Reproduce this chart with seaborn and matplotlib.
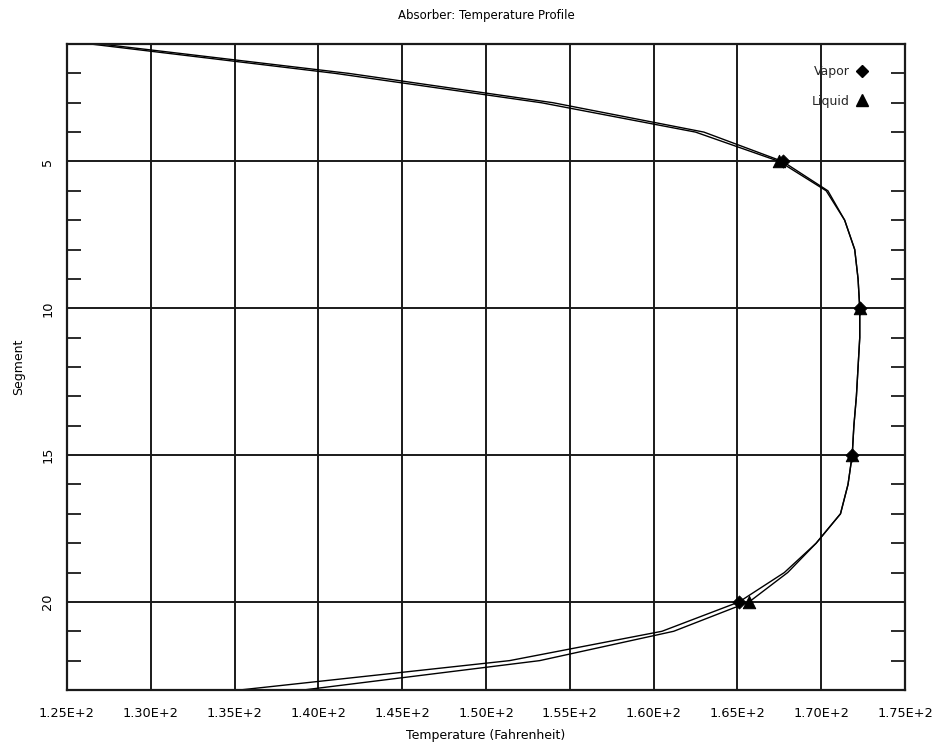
import numpy as np
import pandas as pd
import matplotlib
matplotlib.use("Agg")
import matplotlib.pyplot as plt
from matplotlib.lines import Line2D
from matplotlib.ticker import MultipleLocator, FuncFormatter
import seaborn as sns

segments = list(range(1, 24))
vapor_temp = [127.0, 141.8, 154.0, 163.0, 167.7, 170.4, 171.4, 172.0, 172.2, 172.3,
              172.3, 172.2, 172.1, 171.95, 171.85, 171.6, 171.15, 169.7, 167.8, 165.1,
              160.5, 151.4, 135.3]
liquid_temp = [126.4, 141.0, 153.3, 162.5, 167.5, 170.3, 171.4, 172.0, 172.2, 172.3,
               172.3, 172.2, 172.1, 171.95, 171.85, 171.6, 171.15, 169.7, 168.0, 165.7,
               161.2, 153.2, 139.1]
marker_segments = [5, 10, 15, 20]
x_ticks = [125, 130, 135, 140, 145, 150, 155, 160, 165, 170, 175]
y_major = [5, 10, 15, 20]

sns.set_theme(style="white")
plt.rcParams['font.family'] = ['DejaVu Sans']

df = pd.DataFrame({
    "Segment": segments * 2,
    "Temperature": vapor_temp + liquid_temp,
    "Series": ["Vapor"] * len(segments) + ["Liquid"] * len(segments),
})
mk = df[df["Segment"].isin(marker_segments)]

fig = plt.figure(figsize=(9.39, 7.44), dpi=100)
ax = fig.add_axes([67/939, 1 - 690/744, (905-67)/939, (690-44)/744])

sns.lineplot(data=df, x="Temperature", y="Segment", hue="Series", orient="y",
             palette={"Vapor": "black", "Liquid": "black"}, linewidth=1.0,
             legend=False, ax=ax, estimator=None)
sns.scatterplot(data=mk[mk["Series"] == "Vapor"], x="Temperature", y="Segment",
                marker="D", color="black", s=45, edgecolor="black", ax=ax,
                legend=False, zorder=5)
sns.scatterplot(data=mk[mk["Series"] == "Liquid"], x="Temperature", y="Segment",
                marker="^", color="black", s=80, edgecolor="black", ax=ax,
                legend=False, zorder=6)

ax.set_xlim(125, 175)
ax.set_ylim(23, 1)
ax.set_xticks(x_ticks)
ax.xaxis.set_major_formatter(FuncFormatter(lambda v, p: f"{v/100:.2f}E+2"))
ax.set_yticks(y_major)
ax.yaxis.set_minor_locator(MultipleLocator(1))
ax.grid(True, which="major", color="#1a1a1a", linewidth=1.4)
ax.set_axisbelow(True)

ax.tick_params(axis="x", which="major", length=0, pad=12, labelsize=9.3, colors="black")
ax.tick_params(axis="y", which="major", length=0, pad=9, labelsize=9.3, colors="black",
               labelrotation=90)
ax.tick_params(axis="y", which="minor", direction="in", length=10, width=1.3,
               left=True, right=True, color="#1a1a1a")
for lab in ax.get_yticklabels():
    lab.set_va("center")

for sp in ax.spines.values():
    sp.set_color("#1a1a1a")
    sp.set_linewidth(1.6)

ax.set_xlabel("Temperature (Fahrenheit)", fontsize=9, labelpad=7, color="black")
ax.set_ylabel("Segment", fontsize=9, labelpad=12, color="black")
ax.set_title("Absorber: Temperature Profile", fontsize=8.5, pad=18, color="black")

handles = [Line2D([], [], color="black", marker="D", linestyle="none", markersize=6),
           Line2D([], [], color="black", marker="^", linestyle="none", markersize=8)]
leg = ax.legend(handles, ["Vapor", "Liquid"], loc="upper right", frameon=False,
                markerfirst=False, fontsize=9, handlelength=1.0, handletextpad=0.5,
                labelspacing=1.35, bbox_to_anchor=(0.97, 0.985))

fig.savefig("out.png", dpi=100)
